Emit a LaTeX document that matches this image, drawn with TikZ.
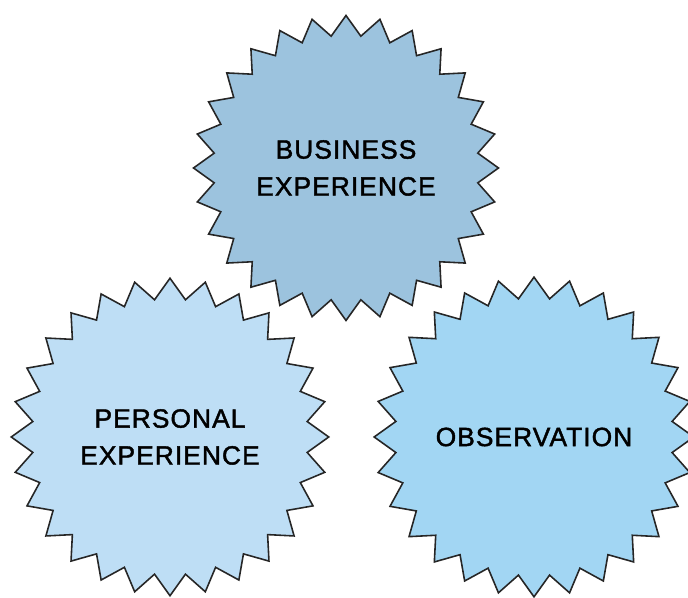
\documentclass[tikz,border=0pt]{standalone}
\usepackage{fontspec}
\setmainfont{Liberation Sans}[FakeBold=1.6, LetterSpace=4]
\usetikzlibrary{shapes.geometric}
\definecolor{bizblue}{HTML}{9CC3DE}
\definecolor{perblue}{HTML}{BEDEF5}
\definecolor{obsblue}{HTML}{A2D6F3}

\begin{document}
\begin{tikzpicture}[
    burst/.style={star, star points=28, star point ratio=1.15,
      draw=black!85, line width=0.9pt, inner sep=0pt, align=center,
      font=\fontsize{15}{21}\selectfont}
  ]
  \useasboundingbox (0,0) rectangle (13.76,11.96);
  \node[burst, fill=bizblue, minimum size=6.1cm] (business) at (6.92,8.6) {BUSINESS\\EXPERIENCE};
  \node[burst, fill=perblue, minimum size=6.35cm] (personal) at (3.4,3.22) {PERSONAL\\EXPERIENCE};
  \node[burst, fill=obsblue, minimum size=6.35cm] (observation) at (10.68,3.22) {OBSERVATION};
\end{tikzpicture}
\end{document}
